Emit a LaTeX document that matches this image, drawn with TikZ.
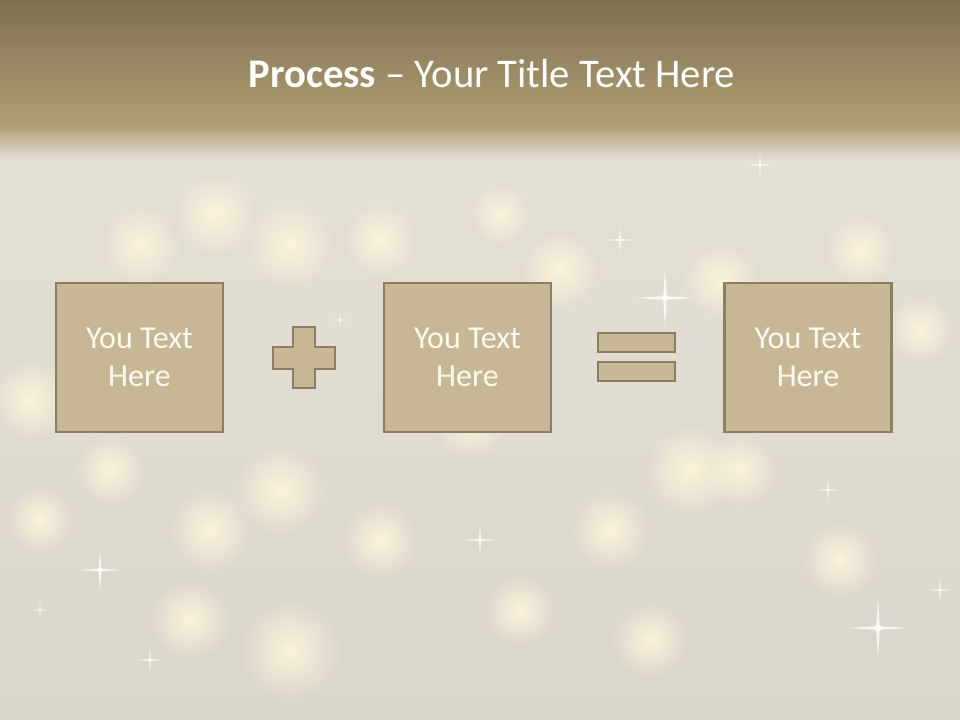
\documentclass[tikz,border=0pt]{standalone}
\usepackage{fontspec}
\setmainfont{Carlito}
\usetikzlibrary{calc,fadings}
\tikzfading[name=softblob, inner color=transparent!0, outer color=transparent!100]
\definecolor{boxfill}{RGB}{200,183,148}
\definecolor{boxline}{RGB}{140,126,98}
\definecolor{bartop}{RGB}{126,113,82}
\definecolor{barbot}{RGB}{178,157,115}
\definecolor{bgmid}{RGB}{228,224,214}
\definecolor{bglow}{RGB}{218,214,204}
\definecolor{bokeh}{RGB}{255,246,218}
\definecolor{txt}{RGB}{253,250,240}
\tikzset{
  x=0.75pt, y=-0.75pt,
  procbox/.style={draw=boxline, line width=2.2pt, fill=boxfill, minimum width=125.25pt, minimum height=111.75pt, inner sep=0pt, text=txt, font=\fontsize{24}{30}\selectfont, align=center},
  opshape/.style={draw=boxline, line width=2.2pt, fill=boxfill},
  blob/.style={fill=bokeh, opacity=0.9, path fading=softblob},
  spark/.style={fill=white, opacity=0.8}
}
\newcommand{\sparkle}[3]{% x y size
  \fill[spark] (#1-#3,#2) -- (#1,#2-0.06*#3) -- (#1+#3,#2) -- (#1,#2+0.06*#3) -- cycle;
  \fill[spark] (#1,#2-#3) -- (#1-0.06*#3,#2) -- (#1,#2+#3) -- (#1+0.06*#3,#2) -- cycle;
  \fill[white, opacity=0.6] (#1,#2) circle (0.12*#3);
}
\begin{document}
\begin{tikzpicture}
\useasboundingbox (0,0) rectangle (960,720);
% background
\shade[top color=bgmid, bottom color=bglow] (0,130) rectangle (960,720);
% bokeh blobs
\foreach \bx/\by/\br in {215/215/42,140/245/40,290/245/44,380/240/38,560/270/40,720/280/38,860/250/36,30/400/40,280/490/46,470/420/40,690/470/46,740/470/38,210/530/42,380/540/38,610/530/40,290/650/50,190/620/40,840/560/38,110/470/36,520/610/36,920/330/34,40/520/34,650/640/38,430/350/34,500/215/30}{
  \fill[blob] (\bx,\by) circle (\br);
}
% title bar
\shade[top color=bartop, bottom color=barbot] (0,0) rectangle (960,125);
\shade[top color=barbot, bottom color=bgmid] (0,125) rectangle (960,160);
% sparkles
\sparkle{620}{240}{16}
\sparkle{665}{298}{30}
\sparkle{100}{570}{22}
\sparkle{480}{540}{18}
\sparkle{878}{628}{30}
\sparkle{828}{490}{14}
\sparkle{940}{590}{14}
\sparkle{150}{660}{14}
\sparkle{40}{610}{10}
\sparkle{340}{320}{10}
\sparkle{760}{165}{14}
% title
\node[text=white, font=\fontsize{30.5}{36}\selectfont, anchor=base] (title) at (492,88) {\textbf{Process} – Your Title Text Here};
% process boxes
\node[procbox] (b1) at (139.5,357.5) {\raisebox{-1.2pt}{You Text}\\Here};
\node[procbox] (b2) at (467.5,357.5) {\raisebox{-1.2pt}{You Text}\\Here};
\node[procbox] (b3) at (808,357.5) {\raisebox{-1.2pt}{You Text}\\Here};
% plus sign
\draw[opshape] (293,327) -- (315,327) -- (315,347) -- (335,347) -- (335,369) -- (315,369) -- (315,388) -- (293,388) -- (293,369) -- (273,369) -- (273,347) -- (293,347) -- cycle;
% equals sign
\draw[opshape] (598,333) rectangle (675,352);
\draw[opshape] (598,362) rectangle (675,381);
\end{tikzpicture}
\end{document}
